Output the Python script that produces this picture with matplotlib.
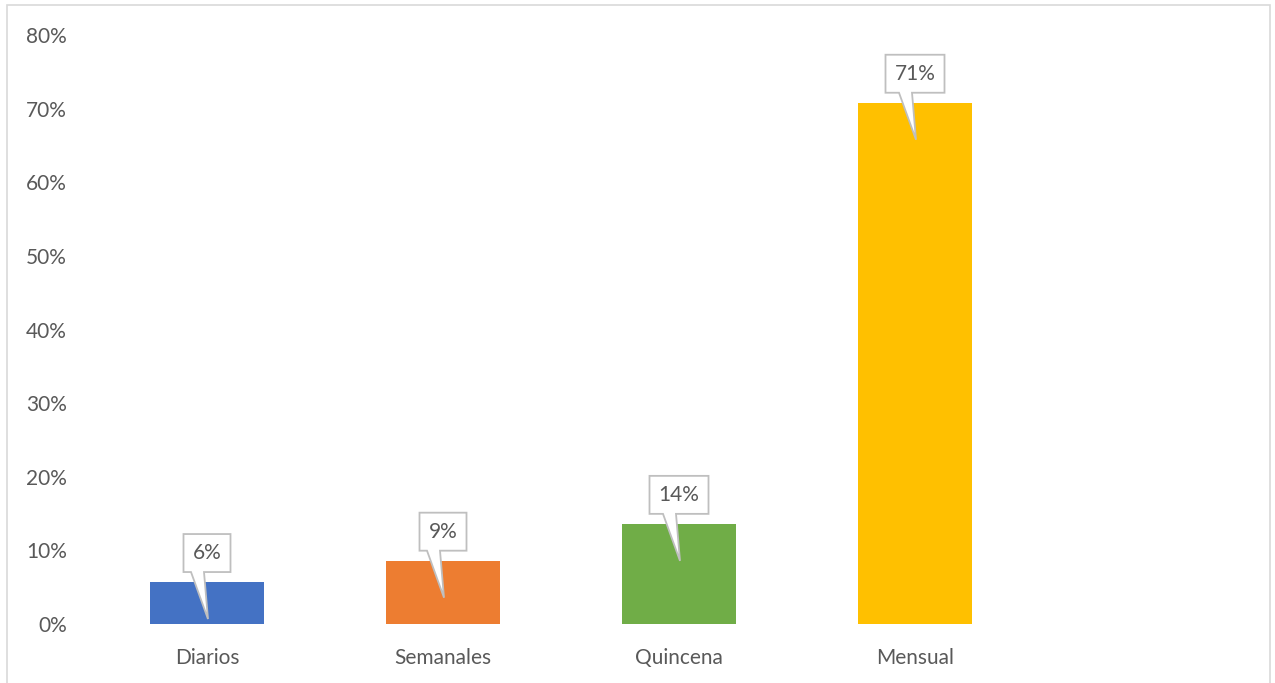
import numpy as np
import matplotlib.pyplot as plt
from matplotlib.patches import Rectangle, Polygon
from matplotlib.transforms import IdentityTransform
from matplotlib.ticker import PercentFormatter

plt.rcParams['font.family'] = ['Lato', 'DejaVu Sans']

categorias = ['Diarios', 'Semanales', 'Quincena', 'Mensual']
valores = [0.057, 0.086, 0.136, 0.708]
colores = ['#4472C4', '#ED7D31', '#70AD47', '#FFC000']
gris = '#595959'

fig = plt.figure(figsize=(12.75, 6.83), dpi=100)
ax = fig.add_axes([89 / 1275, 59 / 683, 1180 / 1275, 589 / 683])

x = np.arange(len(categorias))
ax.bar(x, valores, width=0.483, color=colores, zorder=2)

ax.set_xlim(-0.5, 4.5)
ax.set_ylim(0, 0.8)
ax.set_yticks(np.arange(0, 0.81, 0.1))
ax.yaxis.set_major_formatter(PercentFormatter(1.0, decimals=0))
ax.set_xticks(x)
ax.set_xticklabels(categorias)
ax.tick_params(axis='both', length=0, labelsize=15, colors=gris)
ax.tick_params(axis='y', pad=16)
ax.tick_params(axis='x', pad=17)
for s in ax.spines.values():
    s.set_visible(False)

# borde exterior del grafico
fig.add_artist(Rectangle((7, -10), 1263, 688, transform=IdentityTransform(),
                         fill=False, edgecolor='#D9D9D9', lw=1.2))

# etiquetas tipo globo sobre cada barra
for xi, v in zip(x, valores):
    cx, top = ax.transData.transform((xi, v))
    txt = f'{v:.0%}'
    w = 47 if len(txt) < 3 else 59
    L, R = cx - w / 2, cx + w / 2
    B, T = top + 10, top + 48
    pts = [(L, T), (R, T), (R, B), (cx - 3, B), (cx + 1, top - 37),
           (cx - 16, B), (L, B)]
    ax.add_patch(Polygon(pts, closed=True, transform=IdentityTransform(),
                         facecolor='white', edgecolor='#BFBFBF', lw=1.3,
                         clip_on=False, zorder=3))
    ax.text(cx, (B + T) / 2, txt, transform=IdentityTransform(),
            ha='center', va='center', fontsize=15, color=gris, zorder=4)

fig.savefig('out.png', dpi=100)
